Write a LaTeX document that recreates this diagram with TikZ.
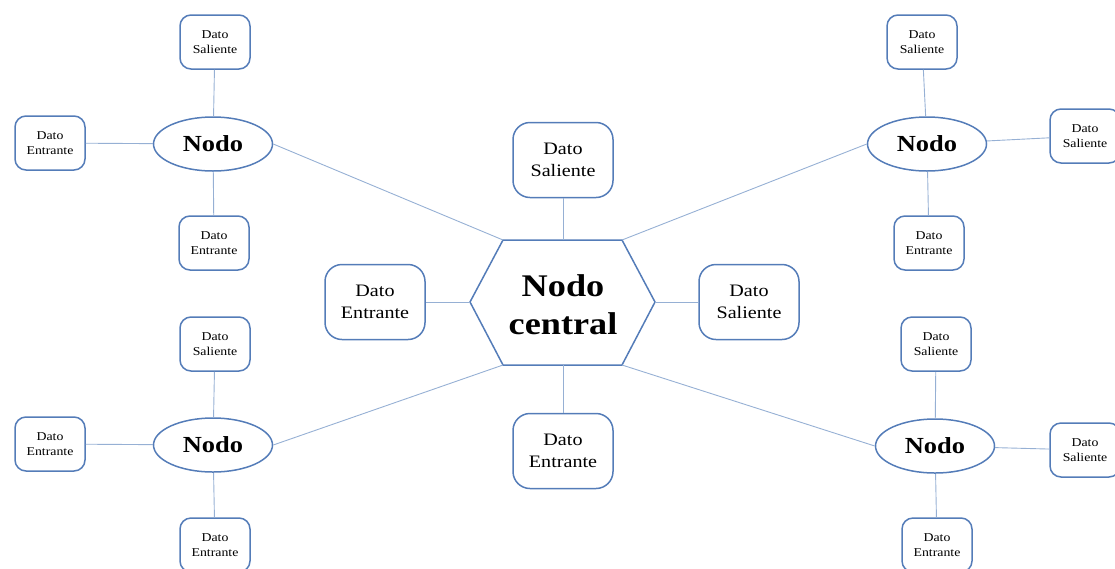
\documentclass[tikz,border=0pt]{standalone}
\usepackage{fontspec}
\setmainfont[FakeStretch=1.15]{Liberation Serif}
\usetikzlibrary{shapes.geometric}
\definecolor{boxc}{RGB}{84,124,184}
\definecolor{linkc}{RGB}{150,176,212}
\tikzset{
  smallbox/.style={draw=boxc, line width=1.5pt, rounded corners=11pt, minimum width=70pt, minimum height=54pt, inner sep=0pt, align=center, font=\fontsize{12}{15}\selectfont},
  bigbox/.style={draw=boxc, line width=1.5pt, rounded corners=17pt, minimum width=100pt, minimum height=75pt, inner sep=0pt, align=center, font=\fontsize{17.5}{22}\selectfont},
  nodo/.style={ellipse, draw=boxc, line width=1.5pt, minimum width=119pt, minimum height=54pt, inner sep=0pt, font=\fontsize{23}{26}\selectfont\bfseries},
  hexa/.style={draw=boxc, line width=1.5pt, line join=miter},
  link/.style={draw=linkc, line width=0.9pt}
}
\begin{document}
\begin{tikzpicture}[x=1pt,y=-1pt]
\useasboundingbox (0,0) rectangle (1115,568);
% central hexagon
\coordinate (hL) at (470,302);
\coordinate (hTL) at (503,240);
\coordinate (hT) at (563,240);
\coordinate (hTR) at (622,240);
\coordinate (hR) at (655,302);
\coordinate (hBR) at (622,365);
\coordinate (hB) at (563,365);
\coordinate (hBL) at (503,365);
\draw[hexa] (hL) -- (hTL) -- (hTR) -- (hR) -- (hBR) -- (hBL) -- cycle;
\node[align=center, font=\fontsize{31.5}{38}\selectfont\bfseries] (central) at (563,305) {Nodo\\central};
% big boxes
\node[bigbox] (bS1) at (563,160) {Dato\\Saliente};
\node[bigbox] (bE1) at (375,302) {Dato\\Entrante};
\node[bigbox] (bS2) at (749,302) {Dato\\Saliente};
\node[bigbox] (bE2) at (563,451) {Dato\\Entrante};
% ellipses
\node[nodo] (n1) at (213,144) {Nodo};
\node[nodo] (n2) at (927,144) {Nodo};
\node[nodo] (n3) at (213,445) {Nodo};
\node[nodo] (n4) at (935,446) {Nodo};
% small boxes group 1
\node[smallbox] (s1a) at (215,42) {Dato\\Saliente};
\node[smallbox] (s1b) at (50,143) {Dato\\Entrante};
\node[smallbox] (s1c) at (214,243) {Dato\\Entrante};
% group 2
\node[smallbox] (s2a) at (922,42) {Dato\\Saliente};
\node[smallbox] (s2b) at (1085,136) {Dato\\Saliente};
\node[smallbox] (s2c) at (929,243) {Dato\\Entrante};
% group 3
\node[smallbox] (s3a) at (215,344) {Dato\\Saliente};
\node[smallbox] (s3b) at (50,444) {Dato\\Entrante};
\node[smallbox] (s3c) at (215,545) {Dato\\Entrante};
% group 4
\node[smallbox] (s4a) at (936,344) {Dato\\Saliente};
\node[smallbox] (s4b) at (1085,450) {Dato\\Saliente};
\node[smallbox] (s4c) at (937,545) {Dato\\Entrante};
% links from hexagon
\draw[link] (hT) -- (bS1);
\draw[link] (hL) -- (bE1);
\draw[link] (hR) -- (bS2);
\draw[link] (hB) -- (bE2);
\draw[link] (hTL) -- (n1.east);
\draw[link] (hTR) -- (n2.west);
\draw[link] (hBL) -- (n3.east);
\draw[link] (hBR) -- (n4.west);
% links from ellipses
\draw[link] (n1) -- (s1a);
\draw[link] (n1) -- (s1b);
\draw[link] (n1) -- (s1c);
\draw[link] (n2) -- (s2a);
\draw[link] (n2) -- (s2b);
\draw[link] (n2) -- (s2c);
\draw[link] (n3) -- (s3a);
\draw[link] (n3) -- (s3b);
\draw[link] (n3) -- (s3c);
\draw[link] (n4) -- (s4a);
\draw[link] (n4) -- (s4b);
\draw[link] (n4) -- (s4c);
\end{tikzpicture}
\end{document}
